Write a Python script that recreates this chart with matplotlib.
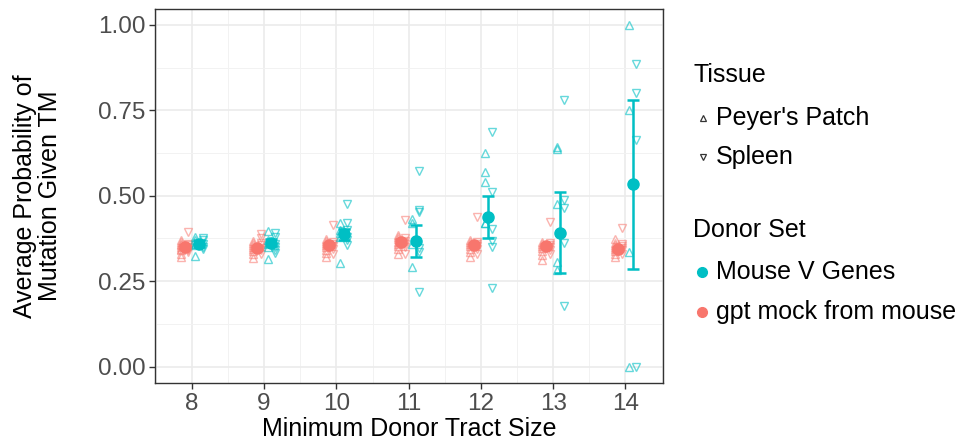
import matplotlib
matplotlib.use("Agg")
import matplotlib.pyplot as plt
import numpy as np

plt.rcParams['font.family'] = ['Liberation Sans', 'DejaVu Sans']

# ---- data ----
tract_sizes = [8, 9, 10, 11, 12, 13, 14]

# Mouse V Genes individual points
mouse_pp = [
    [0.380, 0.360, 0.355, 0.370, 0.324],
    [0.397, 0.370, 0.360, 0.350, 0.314],
    [0.420, 0.400, 0.390, 0.380, 0.304],
    [0.433, 0.420, 0.292, 0.360],
    [0.626, 0.569, 0.540, 0.419, 0.420],
    [0.637, 0.642, 0.477, 0.307, 0.283],
    [1.000, 0.750, 0.336, 0.000],
]
mouse_sp = [
    [0.375, 0.370, 0.345, 0.360, 0.350],
    [0.390, 0.380, 0.360, 0.331, 0.350, 0.340],
    [0.477, 0.420, 0.400, 0.380, 0.370, 0.356],
    [0.572, 0.458, 0.451, 0.346, 0.336, 0.217],
    [0.686, 0.511, 0.404, 0.368, 0.351, 0.229],
    [0.781, 0.487, 0.464, 0.362, 0.178],
    [0.885, 0.800, 0.664, 0.000],
]
mouse_mean = [0.360, 0.362, 0.387, 0.368, 0.438, 0.392, 0.533]
mouse_err = [0.010, 0.010, 0.016, 0.046, 0.061, 0.119, 0.247]

# gpt mock from mouse individual points
gpt_pp = [
    [0.320, 0.330, 0.340, 0.345, 0.350, 0.355, 0.360, 0.365, 0.370],
    [0.318, 0.330, 0.338, 0.345, 0.350, 0.356, 0.362, 0.368],
    [0.320, 0.332, 0.342, 0.350, 0.356, 0.362, 0.368, 0.372],
    [0.330, 0.345, 0.352, 0.360, 0.366, 0.372, 0.378, 0.385],
    [0.322, 0.335, 0.345, 0.352, 0.358, 0.364, 0.370],
    [0.312, 0.328, 0.338, 0.346, 0.352, 0.358, 0.366],
    [0.320, 0.330, 0.338, 0.345, 0.350, 0.356, 0.362, 0.372],
]
gpt_sp = [
    [0.394, 0.335, 0.342, 0.350, 0.355, 0.360, 0.345],
    [0.388, 0.330, 0.340, 0.348, 0.355, 0.362, 0.375],
    [0.414, 0.330, 0.345, 0.352, 0.360, 0.366],
    [0.430, 0.330, 0.350, 0.360, 0.368, 0.375],
    [0.438, 0.330, 0.345, 0.352, 0.360, 0.366],
    [0.424, 0.330, 0.340, 0.350, 0.356, 0.362],
    [0.405, 0.330, 0.340, 0.346, 0.352, 0.358],
]
gpt_mean = [0.350, 0.347, 0.355, 0.366, 0.356, 0.352, 0.345]
gpt_err = [0.005, 0.005, 0.006, 0.006, 0.006, 0.006, 0.006]

tissue_labels = ["Peyer's Patch", "Spleen"]
donor_labels = ["Mouse V Genes", "gpt mock from mouse"]

# ---- style ----
BLUE = "#00BFC4"
RED = "#F8766D"

fig = plt.figure(figsize=(9.64, 4.42), dpi=100)
ax = fig.add_axes([155 / 964, 1 - 383 / 442, (663 - 155) / 964, (383 - 8.5) / 442])

ax.set_xlim(7.49, 14.52)
ax.set_ylim(-0.048, 1.048)
ax.set_xticks(tract_sizes)
ax.set_xticks([7.5 + i for i in range(8)], minor=True)
ax.set_yticks([0, 0.25, 0.5, 0.75, 1.0])
ax.set_yticks([0.125, 0.375, 0.625, 0.875], minor=True)
ax.set_yticklabels(["0.00", "0.25", "0.50", "0.75", "1.00"])
ax.grid(True, which='major', color='#EBEBEB', lw=1.2, zorder=0)
ax.grid(True, which='minor', color='#F2F2F2', lw=0.7, zorder=0)
ax.set_axisbelow(True)
for s in ax.spines.values():
    s.set_color('#333333')
    s.set_linewidth(1.0)
ax.tick_params(axis='both', which='major', labelsize=17.5, labelcolor='#4D4D4D',
               color='#333333', length=4, width=1.0, pad=3)
ax.tick_params(axis='both', which='minor', length=0)

tri_ms = 5.5
for i, x in enumerate(tract_sizes):
    # gpt mock
    ax.plot([x - 0.15] * len(gpt_pp[i]), gpt_pp[i], ls='none', marker='^', ms=tri_ms,
            mfc='none', mec=RED, mew=1.0, alpha=0.55, zorder=3)
    ax.plot([x - 0.05] * len(gpt_sp[i]), gpt_sp[i], ls='none', marker='v', ms=tri_ms,
            mfc='none', mec=RED, mew=1.0, alpha=0.55, zorder=3)
    # mouse
    ax.plot([x + 0.05] * len(mouse_pp[i]), mouse_pp[i], ls='none', marker='^', ms=tri_ms,
            mfc='none', mec=BLUE, mew=1.0, alpha=0.6, zorder=3)
    ax.plot([x + 0.15] * len(mouse_sp[i]), mouse_sp[i], ls='none', marker='v', ms=tri_ms,
            mfc='none', mec=BLUE, mew=1.0, alpha=0.6, zorder=3)

xs = np.array(tract_sizes, dtype=float)
ax.errorbar(xs - 0.1, gpt_mean, yerr=gpt_err, fmt='o', color=RED, ms=8, elinewidth=1.8,
            capsize=4, capthick=1.8, zorder=4)
ax.errorbar(xs + 0.1, mouse_mean, yerr=mouse_err, fmt='o', color=BLUE, ms=8, elinewidth=1.8,
            capsize=4, capthick=1.8, zorder=5)

ax.set_xlabel("Minimum Donor Tract Size", fontsize=18, color='black', labelpad=2)
ax.set_ylabel("Average Probability of\nMutation Given TM", fontsize=18, color='black',
              labelpad=26, linespacing=1.05)

# ---- legend (manual, figure pixel coords) ----
lg = fig.add_axes([0, 0, 1, 1], facecolor='none')
lg.set_xlim(0, 964)
lg.set_ylim(442, 0)
lg.axis('off')
fs = 18
lg.text(693, 75, "Tissue", fontsize=fs, va='center', ha='left')
lg.plot([703], [118], marker='^', ms=4, mfc='none', mec='#333333', mew=0.9, ls='none')
lg.text(716, 118, tissue_labels[0], fontsize=fs, va='center', ha='left')
lg.plot([703], [157], marker='v', ms=4, mfc='none', mec='#333333', mew=0.9, ls='none')
lg.text(716, 157, tissue_labels[1], fontsize=fs, va='center', ha='left')
lg.text(693, 230, "Donor Set", fontsize=fs, va='center', ha='left')
lg.plot([702], [272], marker='o', ms=7, color=BLUE, ls='none')
lg.text(716, 272, donor_labels[0], fontsize=fs, va='center', ha='left')
lg.plot([702], [312], marker='o', ms=7, color=RED, ls='none')
lg.text(716, 312, donor_labels[1], fontsize=fs, va='center', ha='left')

fig.savefig("out.png", dpi=100)
